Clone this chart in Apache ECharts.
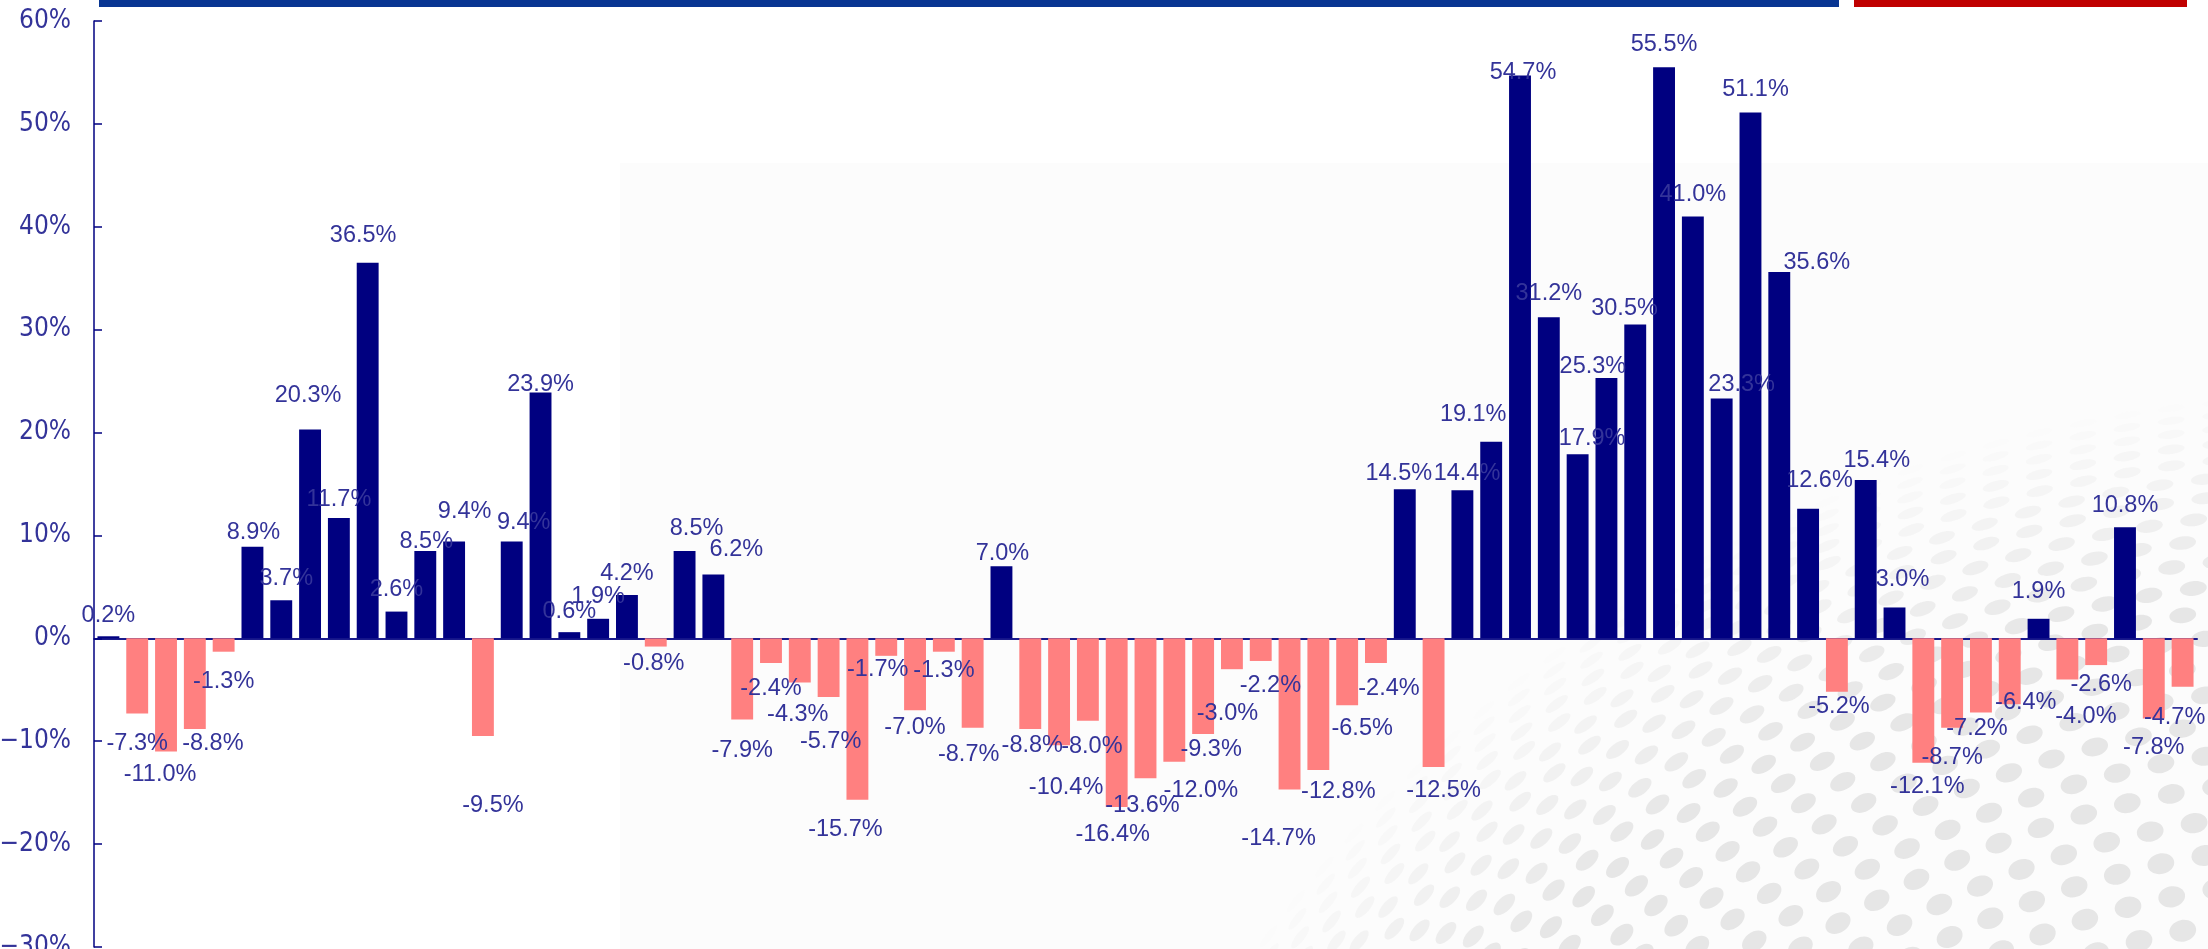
<!DOCTYPE html>
<html><head><meta charset="utf-8">
<script src="https://cdn.jsdelivr.net/npm/echarts@6/dist/echarts.min.js"></script>
<style>html,body{margin:0;padding:0;background:#fff}#c{width:2208px;height:949px}</style>
</head><body><div id="c"></div>
<script>
// ---- data ----
const values = [0.2,-7.3,-11.0,-8.8,-1.3,8.9,3.7,20.3,11.7,36.5,2.6,8.5,9.4,-9.5,9.4,23.9,0.6,1.9,4.2,-0.8,8.5,6.2,-7.9,-2.4,-4.3,-5.7,-15.7,-1.7,-7.0,-1.3,-8.7,7.0,-8.8,-10.4,-8.0,-16.4,-13.6,-12.0,-9.3,-3.0,-2.2,-14.7,-12.8,-6.5,-2.4,14.5,-12.5,14.4,19.1,54.7,31.2,17.9,25.3,30.5,55.5,41.0,23.3,51.1,35.6,12.6,-5.2,15.4,3.0,-12.1,-8.7,-7.2,-6.4,1.9,-4.0,-2.6,10.8,-7.8,-4.7];
const categories = values.map((_, i) => String(i + 1));
const yTicks = [-30, -20, -10, 0, 10, 20, 30, 40, 50, 60];

// ---- label placement (distance of label centre from bar end, horizontal shift) ----
const labelNudge = [[24,0],[27,0],[20.5,-6],[12,18],[27,0],[17,1],[24.5,5],[37,-2],[21,0],[30,-4.5],[25,0],[12,1],[33,10.5],[66,10],[22,12],[11,0],[23.6,0],[25,0],[25,0],[13.5,-2],[25,12],[28,23],[27.5,0],[22,0],[29,-2],[42,2],[27,-12],[11,-8.5],[14,0],[16,0],[24,-4],[15.5,1],[14,2],[39,7],[23,4],[24,-4],[24,-3],[25.5,26.5],[12,8],[41,-4.5],[22,9.6],[45.5,-11],[18.7,20],[20.7,15],[22,13],[19,-6],[21,10],[19.6,4.6],[30.6,-18],[5.7,3],[26.4,0],[18.7,14.5],[14.7,-13.5],[19.3,-10.7],[25.5,0],[25.4,0],[17,20],[25.7,5],[12.4,37.5],[30.8,11.4],[12,2],[22,11],[30.7,8],[21,4],[27,0],[13.6,-4],[-5,16],[30,0],[34.4,18.5],[16.5,5],[25,0],[26.4,0],[28,-8]];

const LH = 24, GLYPH_SHIFT = 3;
const seriesData = values.map((v, i) => {
  const n = labelNudge[i] || [18, 0];
  const pos = v >= 0;
  return {
    value: v,
    label: {
      position: pos ? 'top' : 'bottom',
      offset: [n[1], (pos ? -(n[0] - LH / 2) : (n[0] - LH / 2)) + GLYPH_SHIFT]
    }
  };
});

// ---- decorative dotted globe in the background (not data) ----
function globeDots() {
  const cx = 2350, cy = 1750, R = 1400, step = 0.032, out = [];
  for (let t = step; t < Math.PI / 2; t += step) {
    const s = Math.sin(t), c = Math.cos(t);
    const r = R * s;
    const n = Math.max(1, Math.round(2 * Math.PI * s / step));
    const op = Math.max(0, Math.min(1, (0.975 - s) / 0.15));
    if (op <= 0) continue;
    const phase = (Math.round(t / step) % 2) * 0.5;
    for (let k = 0; k < n; k++) {
      const a = (k + phase) / n * 2 * Math.PI;
      const x = cx + r * Math.cos(a), y = cy + r * Math.sin(a);
      if (x < 600 || x > 2230 || y < 150 || y > 975) continue;
      out.push({
        type: 'ellipse', z: -9, silent: true,
        x: x, y: y, rotation: -(a + Math.PI / 2),
        shape: { cx: 0, cy: 0, rx: 13.5, ry: Math.max(1.3, 13.5 * c) },
        style: { fill: '#e6e6e6', opacity: op }
      });
    }
  }
  return out;
}

const chart = echarts.init(document.getElementById('c'), null, { renderer: 'canvas' });
chart.setOption({
  animation: false,
  backgroundColor: '#ffffff',
  grid: { left: 94, right: 11, top: 21, bottom: 2, outerBoundsMode: 'none', containLabel: false },
  graphic: [
    { type: 'rect', z: -10, silent: true, shape: { x: 620, y: 163, width: 1588, height: 786 }, style: { fill: '#fcfcfc' } },
    ...globeDots(),
    { type: 'rect', z: 10, silent: true, shape: { x: 99, y: 0, width: 1740, height: 7 }, style: { fill: '#083592' } },
    { type: 'rect', z: 10, silent: true, shape: { x: 1854, y: 0, width: 333, height: 7 }, style: { fill: '#C00000' } }
  ],
  xAxis: {
    type: 'category',
    data: categories,
    axisLine: { show: true, onZero: true, lineStyle: { color: '#1a1a8c', width: 2 } },
    axisTick: { show: false },
    axisLabel: { show: false },
    splitLine: { show: false }
  },
  yAxis: {
    type: 'value',
    min: yTicks[0], max: yTicks[yTicks.length - 1], interval: 10,
    axisLine: { show: true, lineStyle: { color: '#000080', width: 1.5 } },
    axisTick: { show: true, inside: true, length: 8, lineStyle: { color: '#000080', width: 1.5 } },
    splitLine: { show: false },
    axisLabel: {
      color: '#333399', fontSize: 26, margin: 23,
      fontFamily: "'Liberation Sans Narrow', 'Arial Narrow', 'DejaVu Sans Condensed', sans-serif",
      formatter: v => (v < 0 ? '\u2212' + (-v) : v) + '%'
    }
  },
  series: [{
    type: 'bar',
    data: seriesData,
    barCategoryGap: '24%',
    itemStyle: { color: p => (p.value >= 0 ? '#000080' : '#FF8080') },
    label: {
      show: true, distance: 0,
      color: '#333399', fontSize: 23.5, lineHeight: LH,
      fontFamily: 'Liberation Sans, Arial, sans-serif',
      formatter: p => p.value.toFixed(1) + '%'
    }
  }]
});
</script></body></html>
